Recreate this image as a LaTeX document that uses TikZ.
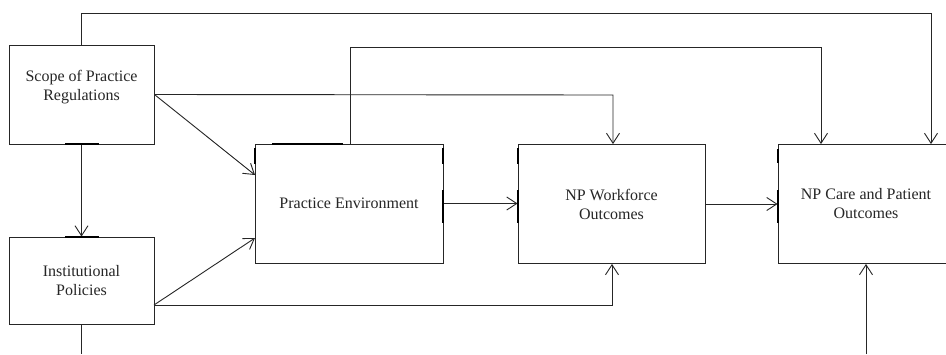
\documentclass[tikz,border=0pt]{standalone}
\usepackage{fontspec}
\setmainfont{Liberation Serif}
\usetikzlibrary{arrows.meta}
\begin{document}
\begin{tikzpicture}[x=1pt,y=-1pt,
  box/.style={draw=black!85,line width=0.9pt,rectangle,inner sep=0pt,align=center,
    font=\fontsize{16}{19}\selectfont,text=black!85},
  conn/.style={draw=black!85,line width=0.9pt},
  arr/.style={conn,-{Straight Barb[length=10pt,width=13pt,line width=0.9pt]}},
  tick/.style={draw=black,line width=2.4pt}]
\useasboundingbox (0,0) rectangle (946,354);
\clip (0,0) rectangle (946,354);
\fill[white] (0,0) rectangle (946,354);
% boxes
\node[box,minimum width=145pt,minimum height=99pt,
  label={[name=scopetext,align=center,font=\fontsize{16}{19}\selectfont,text=black!85,yshift=7pt]center:Scope of Practice\\Regulations}]
  (scope) at (81.5,94.5) {};
\node[box,minimum width=145pt,minimum height=87pt] (inst) at (81.5,280.5) {Institutional\\Policies};
\node[box,minimum width=188pt,minimum height=119pt] (pe) at (349,203.5) {Practice Environment};
\node[box,minimum width=187pt,minimum height=119pt] (npw) at (611.5,204) {NP Workforce\\Outcomes};
\node[box,minimum width=176pt,minimum height=119pt] (care) at (866,204) {NP Care and Patient\\Outcomes};
% helper coordinates
\coordinate (c1) at (931,13);
\coordinate (c2) at (350,47);
\coordinate (c2e) at (821,47);
\coordinate (c3) at (613,95);
\coordinate (c4) at (255,175);
\coordinate (c5) at (255,238);
\coordinate (c6) at (612,305);
\coordinate (c7) at (866,354);
\coordinate (c8) at (81.5,354);
\coordinate (ie) at (154,305);
% connectors
\draw[arr] (scope.north) |- (c1) -- (c1 |- care.north);
\draw[arr] (c2 |- pe.north) -- (c2) -- (c2e) -- (c2e |- care.north);
\draw[arr] (scope.east) -- (c3) -- (c3 |- npw.north);
\draw[arr] (scope.east) -- (c4);
\draw[arr] (scope.south) -- (inst.north);
\draw[arr] (ie) -- (c5);
\draw[arr] (ie) -- (c6) -- (c6 |- npw.south);
\draw[arr] (pe.east) -- (pe.east -| npw.west);
\draw[arr] (npw.east) -- (npw.east -| care.west);
\draw[arr] (c7) -- (c7 |- care.south);
\draw[conn] (inst.south) -- (c8);
% thick marks at connection points
\draw[tick] (65,144) -- (99,144);
\draw[tick] (65,237) -- (99,237);
\draw[tick] (272,144) -- (343,144);
\draw[tick] (255,148) -- (255,164);
\draw[tick] (443,148) -- (443,164);
\draw[tick] (443,190) -- (443,223);
\draw[tick] (518,148) -- (518,164);
\draw[tick] (518,190) -- (518,223);
\draw[tick] (778,149) -- (778,163);
\draw[tick] (778,190) -- (778,223);
\end{tikzpicture}
\end{document}
